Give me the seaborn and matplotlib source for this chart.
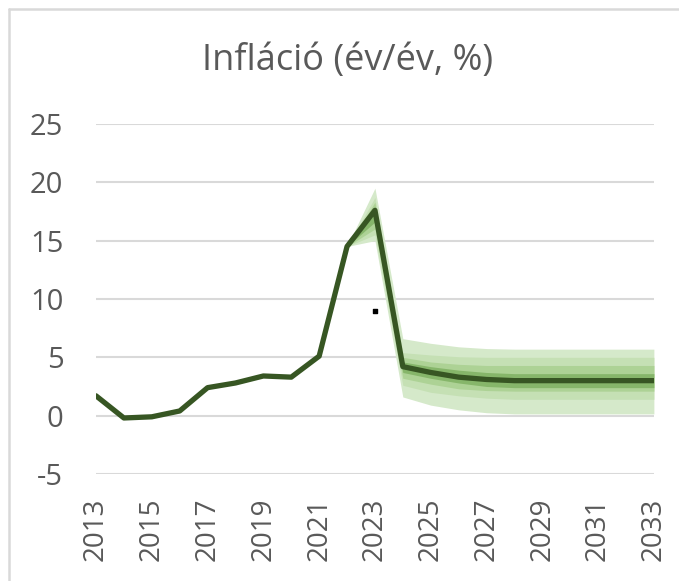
import pandas as pd
import matplotlib.pyplot as plt
from matplotlib.lines import Line2D
import seaborn as sns

sns.set_style("white")
plt.rcParams['font.family'] = ['Open Sans', 'DejaVu Sans']
plt.rcParams['axes.unicode_minus'] = False

# historical + forecast median inflation (%)
years = list(range(2013, 2034))
inflation = [1.7, -0.2, -0.1, 0.4, 2.4, 2.8, 3.4, 3.3, 5.1, 14.5, 17.6,
             4.2, 3.7, 3.3, 3.1, 3.0, 3.0, 3.0, 3.0, 3.0, 3.0]

# fan chart bands (2022-2033), outer to inner
fan_years = list(range(2022, 2034))
outer_hi = [14.5, 19.5, 6.6, 6.2, 5.9, 5.75, 5.7, 5.7, 5.7, 5.7, 5.7, 5.7]
outer_lo = [14.5, 15.0, 1.6, 0.9, 0.5, 0.25, 0.15, 0.15, 0.15, 0.15, 0.15, 0.15]
mid_hi = [14.5, 18.7, 5.4, 5.2, 5.05, 5.0, 5.0, 5.0, 5.0, 5.0, 5.0, 5.0]
mid_lo = [14.5, 15.5, 2.6, 2.0, 1.7, 1.5, 1.4, 1.4, 1.4, 1.4, 1.4, 1.4]
inner_hi = [14.5, 18.3, 5.0, 4.6, 4.4, 4.3, 4.3, 4.3, 4.3, 4.3, 4.3, 4.3]
inner_lo = [14.5, 16.0, 3.2, 2.7, 2.3, 2.15, 2.1, 2.1, 2.1, 2.1, 2.1, 2.1]
core_hi = [14.5, 17.9, 4.6, 4.2, 3.9, 3.7, 3.6, 3.6, 3.6, 3.6, 3.6, 3.6]
core_lo = [14.5, 16.6, 3.7, 3.2, 2.8, 2.5, 2.4, 2.4, 2.4, 2.4, 2.4, 2.4]

# stray single marker seen on the chart
dot_x = [2023]
dot_y = [9.0]

df = pd.DataFrame({'year': years, 'inflation': inflation})

fig = plt.figure(figsize=(6.79, 5.81), dpi=100)
ax = fig.add_axes([0.1414, 0.1842, 0.8216, 0.6024])

bands = [(outer_lo, outer_hi, '#d5e9ca'),
         (mid_lo, mid_hi, '#c5e0b4'),
         (inner_lo, inner_hi, '#add295'),
         (core_lo, core_hi, '#86b66a')]
for lo, hi, c in bands:
    ax.fill_between(fan_years, lo, hi, color=c, linewidth=0, zorder=1)

sns.lineplot(data=df, x='year', y='inflation', ax=ax, color='#375623',
             linewidth=3.8, zorder=3)
ax.scatter(dot_x, dot_y, marker='s', s=6, color='black', zorder=4)

ax.set_xlim(2013, 2033)
ax.set_ylim(-5, 25)
ax.set_yticks(range(-5, 26, 5))
ax.set_xticks(range(2013, 2034, 2))
ax.set_xticklabels([str(y) for y in range(2013, 2034, 2)], rotation=90)
ax.grid(axis='y', color='#d9d9d9', linewidth=1.5, zorder=0)
ax.set_axisbelow(True)
for s in ax.spines.values():
    s.set_visible(False)
ax.tick_params(axis='both', length=0, labelcolor='#595959')
ax.tick_params(axis='y', labelsize=21, pad=23.5)
ax.tick_params(axis='x', labelsize=20, pad=17)
ax.set_xlabel('')
ax.set_ylabel('')
fig.text(348 / 679, 1 - 70 / 581, 'Infláció (év/év, %)', fontsize=26,
         color='#595959', ha='center', va='baseline')

# outer chart frame (left and top edges visible)
fig.add_artist(Line2D([9 / 679, 9 / 679], [0, 1 - 9 / 581], color='#d9d9d9', linewidth=1.8))
fig.add_artist(Line2D([9 / 679, 1], [1 - 9 / 581, 1 - 9 / 581], color='#d9d9d9', linewidth=1.8))

fig.savefig('out.png', dpi=100)
